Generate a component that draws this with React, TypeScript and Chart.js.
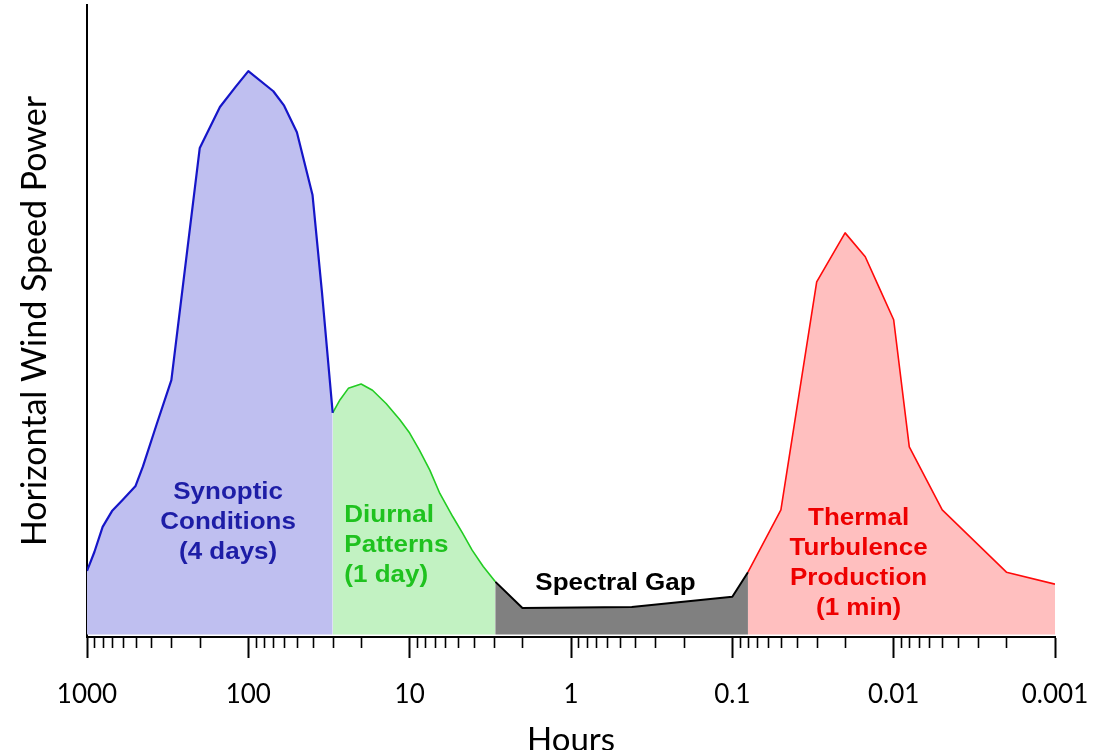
import React, { useEffect, useRef } from 'react';
import { Chart, registerables } from 'chart.js';

Chart.register(...registerables);

// ---- data (hours on a reversed log axis, relative power) ----
const synopticHours = [1000, 900, 800, 700, 600, 500, 450, 370, 300, 200, 150, 120, 100, 70, 60, 50, 40, 35, 30];
const synopticPower = [10.1, 13.1, 17.1, 19.6, 21.4, 23.6, 26.7, 33.4, 40.4, 77.3, 83.8, 87.0, 89.5, 86.3, 84.0, 79.8, 69.8, 54.5, 35.2];

const diurnalHours = [30, 27, 24, 20, 17, 14, 11.5, 10, 8.7, 7.5, 6.5, 5.4, 4.7, 4.1, 3.5, 2.95];
const diurnalPower = [35.2, 37.3, 39.1, 39.8, 38.8, 36.7, 34.1, 32.0, 29.3, 26.1, 22.4, 18.7, 16.1, 13.4, 10.8, 8.4];

const gapHours = [2.95, 2.0, 0.42, 0.1, 0.08];
const gapPower = [8.4, 4.2, 4.35, 6.0, 9.9];

const thermalHours = [0.08, 0.05, 0.03, 0.02, 0.015, 0.0125, 0.01, 0.008, 0.005, 0.002, 0.001];
const thermalPower = [9.9, 19.8, 56.0, 63.8, 60.0, 55.5, 50.0, 29.8, 19.8, 9.9, 8.0];

const decadeTicks = [1000, 100, 10, 1, 0.1, 0.01, 0.001];
const decadeLabels = ['1000', '100', '10', '1', '0.1', '0.01', '0.001'];
const minorMultipliers = [2, 3, 4, 5, 6, 7, 8, 9];

const xTitle = 'Hours';
const yTitle = 'Horizontal Wind Speed Power';

// annotation text: anchor in data units (hours, power)
const annoLines = [
  ['Synoptic', 'Conditions', '(4 days)'],
  ['Diurnal', 'Patterns', '(1 day)'],
  ['Spectral Gap'],
  ['Thermal', 'Turbulence', 'Production', '(1 min)'],
];
const annoHours = [133.5, 25.4, 0.53, 0.0165];
const annoPower = [21.5, 17.9, 7.07, 17.4];
const annoAlign = ['center', 'left', 'center', 'center'];
const annoColors = ['#1d1da6', '#1fc21f', '#000000', '#ee0000'];

const annotationPlugin = {
  id: 'annoText',
  afterDatasetsDraw(chart: any) {
    const { ctx, scales } = chart;
    const xs = scales.x;
    const ys = scales.y;
    const sx = 1.13;
    ctx.save();
    ctx.font = 'bold 23px "Liberation Sans", Arial, sans-serif';
    ctx.textBaseline = 'alphabetic';
    annoLines.forEach((lines, i) => {
      const x = xs.getPixelForValue(annoHours[i]);
      const y = ys.getPixelForValue(annoPower[i]);
      ctx.fillStyle = annoColors[i];
      lines.forEach((t, j) => {
        const w = ctx.measureText(t).width * sx;
        const lx = annoAlign[i] === 'center' ? x - w / 2 : x;
        ctx.save();
        ctx.translate(lx, y + j * 30);
        ctx.scale(sx, 1);
        ctx.textAlign = 'left';
        ctx.fillText(t, 0, 0);
        ctx.restore();
      });
    });
    ctx.restore();
  },
};

const minorTickPlugin = {
  id: 'minorTicks',
  afterDraw(chart: any) {
    const { ctx, scales, chartArea } = chart;
    const xs = scales.x;
    ctx.save();
    ctx.strokeStyle = '#000';
    ctx.lineWidth = 1.6;
    xs.ticks.forEach((t: any) => {
      if (t.major) return;
      const px = Math.round(xs.getPixelForValue(t.value)) + 0.5;
      ctx.beginPath();
      ctx.moveTo(px, chartArea.bottom);
      ctx.lineTo(px, chartArea.bottom + 11);
      ctx.stroke();
    });
    ctx.restore();
  },
};

const toPts = (xs: number[], ys: number[]) => xs.map((x, i) => ({ x, y: ys[i] }));

export default function App() {
  const ref = useRef<HTMLCanvasElement | null>(null);
  useEffect(() => {
    if (!ref.current) return;
    const mk = (xs: number[], ys: number[], line: string, fillc: string, w: number) => ({
      data: toPts(xs, ys),
      borderColor: line,
      backgroundColor: fillc,
      borderWidth: w,
      fill: 'origin',
      pointRadius: 0,
      tension: 0,
      borderJoinStyle: 'round',
    });
    const chart = new Chart(ref.current, {
      type: 'line',
      data: {
        datasets: [
          mk(synopticHours, synopticPower, '#1515c8', '#bfbff0', 2.2),
          mk(diurnalHours, diurnalPower, '#22cc22', '#c2f2c2', 1.6),
          mk(gapHours, gapPower, '#000000', '#808080', 2),
          mk(thermalHours, thermalPower, '#ff0a0a', '#ffbfbf', 1.6),
        ] as any,
      },
      options: {
        responsive: false,
        animation: false,
        devicePixelRatio: 1,
        layout: { padding: { left: 0, right: 42, top: 5, bottom: 0 } },
        plugins: { legend: { display: false }, tooltip: { enabled: false } },
        scales: {
          x: {
            type: 'logarithmic',
            reverse: true,
            min: 0.001,
            max: 1000,
            afterBuildTicks: (scale: any) => {
              const ticks: any[] = [];
              decadeTicks.forEach((d) => {
                ticks.push({ value: d, major: true });
                if (d < 1000) {
                  minorMultipliers.forEach((m) => {
                    const v = d * m;
                    if (v < 1000) ticks.push({ value: v, major: false });
                  });
                }
              });
              scale.ticks = ticks;
            },
            afterFit: (scale: any) => {
              scale.height = 113;
              scale.paddingLeft = 0;
              scale.paddingRight = 0;
            },
            grid: {
              display: true,
              drawOnChartArea: false,
              drawTicks: true,
              tickLength: 21,
              tickWidth: 2,
              tickColor: (c: any) => (c.tick && c.tick.major ? '#000' : 'rgba(0,0,0,0)'),
            },
            border: { display: true, color: '#000', width: 2 },
            ticks: {
              autoSkip: false,
              maxRotation: 0,
              padding: 21,
              color: '#000',
              font: { family: 'Lato', size: 26 },
              callback: (v: any) => {
                const i = decadeTicks.findIndex((d) => Math.abs(Math.log10(d) - Math.log10(Number(v))) < 1e-6);
                return i >= 0 ? decadeLabels[i] : '';
              },
            },
            title: {
              display: true,
              text: xTitle,
              color: '#000',
              font: { family: 'Lato', size: 33, lineHeight: 1 },
              padding: { top: 0, bottom: -7 },
            },
          },
          y: {
            type: 'linear',
            min: -0.4,
            max: 100,
            afterFit: (scale: any) => {
              scale.width = 87;
            },
            grid: { display: false },
            border: { display: true, color: '#000', width: 2 },
            ticks: { display: false },
            title: {
              display: true,
              text: yTitle,
              color: '#000',
              font: { family: 'Lato', size: 34, lineHeight: 1 },
              padding: { top: 18, bottom: 0 },
            },
          },
        },
      },
      plugins: [annotationPlugin, minorTickPlugin],
    } as any);
    return () => chart.destroy();
  }, []);
  return (
    <div style={{ position: 'fixed', left: 0, top: 0, width: 1097, height: 750, background: '#fff' }}>
      <canvas ref={ref} width={1097} height={750} style={{ display: 'block' }} />
    </div>
  );
}
